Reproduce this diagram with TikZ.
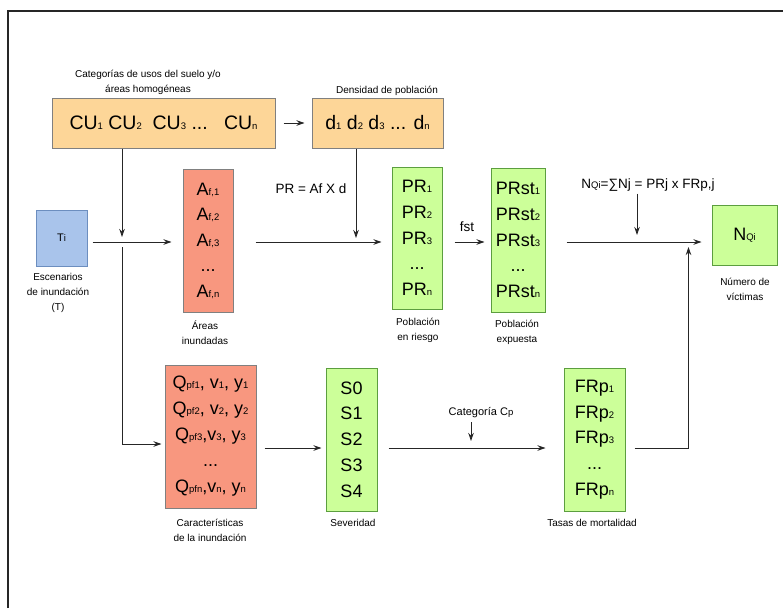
\documentclass[tikz,border=0pt]{standalone}
\usepackage{fontspec}
\setmainfont{Liberation Sans}
\usetikzlibrary{arrows.meta,calc}
\definecolor{orgfill}{HTML}{FDD698}
\definecolor{salfill}{HTML}{F8977F}
\definecolor{grnfill}{HTML}{CCFF99}
\definecolor{grnline}{HTML}{5C9E3F}
\definecolor{blufill}{HTML}{A9C4EB}
\definecolor{bluline}{HTML}{6C8EBF}
\definecolor{gryline}{HTML}{808080}
\newcommand{\sbx}[1]{{\fontsize{9.5}{9.5}\selectfont #1}}
\begin{document}
\begin{tikzpicture}[x=1pt,y=-1pt,
  box/.style={draw, line width=1pt, inner sep=0pt, align=center},
  orgbox/.style={box, fill=orgfill, draw=gryline, font=\fontsize{19.5}{22}\selectfont},
  salbox/.style={box, fill=salfill, draw=gryline, font=\fontsize{18}{25.5}\selectfont},
  grnbox/.style={box, fill=grnfill, draw=grnline, font=\fontsize{18}{25.8}\selectfont},
  blubox/.style={box, fill=blufill, draw=bluline, font=\fontsize{11}{13}\selectfont},
  lbl/.style={font=\fontsize{10}{15}\selectfont, align=center, inner sep=0pt},
  frm/.style={font=\fontsize{13.5}{16}\selectfont, inner sep=0pt},
  arr/.style={-{Stealth[length=8pt,width=5.5pt]}, line width=0.9pt, color=black!85}]
\useasboundingbox (0,0) rectangle (783,608);
\draw[line width=1.5pt, color=black!85] (8,608) -- (8,11) -- (783,11);
\coordinate (row) at (0,242);
\coordinate (brow) at (0,448);
\coordinate (j) at (122,242);
% top row
\node[orgbox, minimum width=223, minimum height=50] (CU) at (163.5,123)
  {CU\sbx{1} CU\sbx{2}\ \ CU\sbx{3} ...\ \ \ CU\sbx{n}};
\node[orgbox, minimum width=131, minimum height=50] (d) at (377.5,123)
  {d\sbx{1} d\sbx{2} d\sbx{3} ... d\sbx{n}};
\node[lbl] (tCU) at (148,82) {Categorías de usos del suelo y/o\\áreas homogéneas};
\node[lbl] (tD) at (387,91) {Densidad de población};
% middle row
\node[blubox, minimum width=51, minimum height=56] (Ti) at (61.5,238) {T\sbx{i}};
\node[lbl] (lTi) at (58,293) {Escenarios\\de inundación\\(T)};
\node[salbox, minimum width=50, minimum height=143] (Af) at (208,240.5)
  {A\sbx{f,1}\\A\sbx{f,2}\\A\sbx{f,3}\\...\\A\sbx{f,n}};
\node[lbl] (lAf) at (205,332.5) {Áreas\\inundadas};
\node[frm] (fPR) at (311,189) {PR = Af X d};
\node[grnbox, minimum width=50, minimum height=142] (PR) at (417,238)
  {PR\sbx{1}\\PR\sbx{2}\\PR\sbx{3}\\...\\PR\sbx{n}};
\node[lbl] (lPR) at (418,330.5) {Población\\en riesgo};
\node[frm] (fst) at (467,227) {fst};
\node[grnbox, minimum width=54, minimum height=144] (PRst) at (518,240)
  {PRst\sbx{1}\\PRst\sbx{2}\\PRst\sbx{3}\\...\\PRst\sbx{n}};
\node[lbl] (lPRst) at (517,332.5) {Población\\expuesta};
\node[frm] (fN) at (648,185) {N\sbx{Qi}=∑Nj = PRj x FRp,j};
\node[grnbox, minimum width=65, minimum height=60, font=\fontsize{18}{20}\selectfont] (N) at (744.5,235) {N\sbx{Qi}};
\node[lbl] (lN) at (745,289.5) {Número de\\víctimas};
% bottom row
\node[salbox, minimum width=91, minimum height=143, font=\fontsize{18}{26}\selectfont] (Q) at (210.5,436.5)
  {Q\sbx{pf1}, v\sbx{1}, y\sbx{1}\\Q\sbx{pf2}, v\sbx{2}, y\sbx{2}\\Q\sbx{pf3},v\sbx{3}, y\sbx{3}\\...\\Q\sbx{pfn},v\sbx{n}, y\sbx{n}};
\node[lbl] (lQ) at (210,530.5) {Características\\de la inundación};
\node[grnbox, minimum width=51, minimum height=143] (S) at (351.5,439.5)
  {S0\\S1\\S2\\S3\\S4};
\node[lbl] (lS) at (353,523) {Severidad};
\node[lbl, font=\fontsize{11}{13}\selectfont] (Cp) at (481,413) {Categoría C\sbx{p}};
\node[grnbox, minimum width=61, minimum height=143] (FR) at (594.5,439.5)
  {FRp\sbx{1}\\FRp\sbx{2}\\FRp\sbx{3}\\...\\FRp\sbx{n}};
\node[lbl] (lFR) at (592,523) {Tasas de mortalidad};
% connectors
\draw[arr, shorten <=8pt, shorten >=7pt] (CU) -- (d);
\draw[arr] (CU.south -| j) -- ([yshift=5pt]j);
\draw[arr] ([xshift=5pt]Ti.east |- row) -- ([xshift=-11pt]Af.west |- row);
\draw[arr] ([yshift=-5pt]j) |- ($(Q.west)+(-3,7.5)$);
\draw[arr] ([xshift=22pt]Af.east |- row) -- ([xshift=-10pt]PR.west |- row);
\draw[arr] ($(d.south)+(-21.5,0)$) -- ($(d.south |- row)+(-21.5,-4)$);
\draw[arr] ([xshift=12pt]PR.east |- row) -- ([xshift=-6pt]PRst.west |- row);
\draw[arr] ([xshift=21pt]PRst.east |- row) -- ([xshift=-10pt]N.west |- row);
\draw[arr] ($(fN.south)+(-11,2)$) -- ($(fN.south |- row)+(-11,-7)$);
\draw[arr] ([xshift=9pt]FR.east |- brow) -| ($(N.west |- row)+(-23,5)$);
\draw[arr] ([xshift=8pt]Q.east |- brow) -- ([xshift=-4pt]S.west |- brow);
\draw[arr] ([xshift=11pt]S.east |- brow) -- ([xshift=-18pt]FR.west |- brow);
\draw[arr] ($(Cp.south)+(-10,4)$) -- ($(Cp.south |- brow)+(-10,-7)$);
\end{tikzpicture}
\end{document}
